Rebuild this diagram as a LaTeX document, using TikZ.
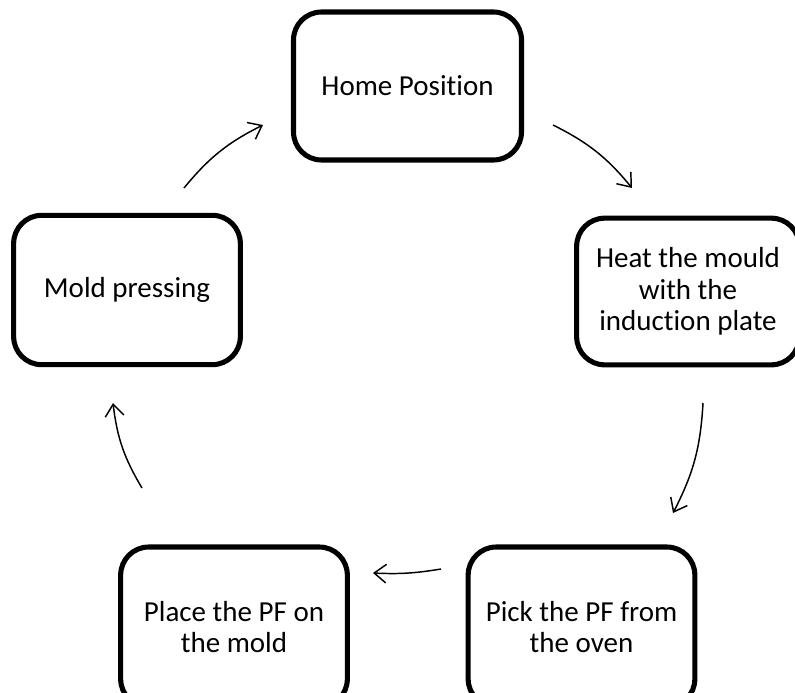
\documentclass[tikz,border=0pt]{standalone}
\usepackage{fontspec}
\setmainfont{Carlito}[Ligatures={NoCommon}]
\usetikzlibrary{arrows.meta}
\begin{document}
\begin{tikzpicture}[x=0.75pt,y=-0.75pt,
  stepbox/.style={draw=black, line width=3.8pt, rounded corners=21pt, fill=white,
    align=center, font=\fontsize{21.75}{23.6}\selectfont, inner sep=0pt},
  flow/.style={line width=1.1pt, -{Straight Barb[length=9pt,width=14pt,line width=1.1pt]}}]
\useasboundingbox (0,0) rectangle (795,692);
\clip (0,0) rectangle (795,692);
\fill[white] (0,0) rectangle (795,692);
\node[stepbox, minimum width=171pt, minimum height=111pt] (home) at (407.5,86) {Home Position};
\node[stepbox, minimum width=167pt, minimum height=110pt] (heat) at (688,291.5) {Heat the mould\\with the\\induction plate};
\node[stepbox, minimum width=170pt, minimum height=112pt] (mold) at (127,290) {Mold pressing};
\node[stepbox, minimum width=170pt, minimum height=120pt] (place) at (234,627) {Place the PF on\\the mold};
\node[stepbox, minimum width=170pt, minimum height=120pt] (pick) at (581.5,627) {Pick the PF from\\the oven};
\coordinate (a1s) at (184,188); \coordinate (a1e) at (263,125);
\coordinate (a2s) at (553,125); \coordinate (a2e) at (632,188);
\coordinate (a3s) at (703,403); \coordinate (a3e) at (673,513);
\coordinate (a4s) at (441,569); \coordinate (a4e) at (373,573);
\coordinate (a5s) at (142,488); \coordinate (a5e) at (113,403);
\draw[flow] (a1s) to[bend left=12] (a1e);
\draw[flow] (a2s) to[bend left=12] (a2e);
\draw[flow] (a3s) to[bend left=12] (a3e);
\draw[flow] (a4s) to[bend left=6] (a4e);
\draw[flow] (a5s) to[bend left=12] (a5e);
\end{tikzpicture}
\end{document}
